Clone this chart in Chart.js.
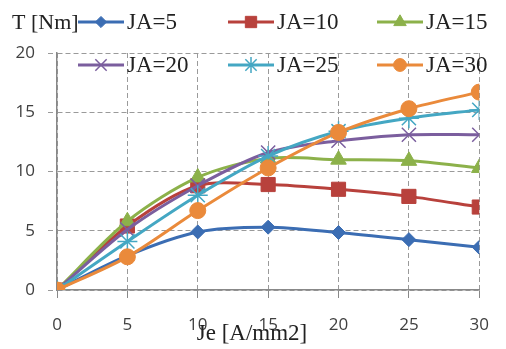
<!DOCTYPE html>
<html>
<head>
<meta charset="utf-8">
<script src="https://cdn.jsdelivr.net/npm/chart.js@4.4.0/dist/chart.umd.min.js"></script>
<style>
  html, body { margin: 0; padding: 0; background: #fff; }
  canvas { display: block; }
</style>
</head>
<body>
<canvas id="torqueChart" width="506" height="349"></canvas>
<script>
// Datos (Je en A/mm2, T en Nm)
const jeValues = [0, 5, 10, 15, 20, 25, 30];
const tJA5  = [0, 2.9, 4.9, 5.3, 4.85, 4.25, 3.6];
const tJA10 = [0, 5.4, 8.8, 8.9, 8.5, 7.9, 7.0];
const tJA15 = [0, 5.8, 9.5, 11.1, 11.0, 10.9, 10.3];
const tJA20 = [0, 5.1, 8.8, 11.6, 12.6, 13.1, 13.1];
const tJA25 = [0, 4.1, 8.0, 11.3, 13.4, 14.5, 15.2];
const tJA30 = [0, 2.8, 6.7, 10.3, 13.3, 15.3, 16.7];
const yTicks = [0, 5, 10, 15, 20];

// Colores estilo Excel
const colors = {
    blue: '#3b6db3',
    red: '#b8413c',
    green: '#8cb14a',
    purple: '#7b5e9e',
    cyan: '#44a7c3',
    orange: '#ea8a3b'
};

function serie(label, values, color, style, radius, strokeOnly, order) {
    return {
        label: label,
        data: jeValues.map((x, i) => ({ x: x, y: values[i] })),
        borderColor: color,
        backgroundColor: color,
        borderWidth: 3,
        tension: 0.3,
        pointStyle: style,
        pointRadius: radius,
        pointBackgroundColor: strokeOnly ? 'transparent' : color,
        pointBorderColor: color,
        pointBorderWidth: strokeOnly ? 1.5 : 1,
        order: order
    };
}

const datasets = [
    serie('JA=5', tJA5, colors.blue, 'rectRot', 7, false, 6),
    serie('JA=10', tJA10, colors.red, 'rect', 10, false, 5),
    serie('JA=15', tJA15, colors.green, 'triangle', 9, false, 4),
    serie('JA=20', tJA20, colors.purple, 'crossRot', 10, true, 3),
    serie('JA=25', tJA25, colors.cyan, 'star', 10, true, 2),
    serie('JA=30', tJA30, colors.orange, 'circle', 8, false, 1)
];

// Leyenda y títulos dibujados a mano (3 columnas, 2 filas)
const legendPlugin = {
    id: 'excelLegend',
    afterDraw(chart) {
        const ctx = chart.ctx;
        const cols = [78, 228, 377];
        const rows = [22, 65];
        ctx.save();
        ctx.font = '23px "Liberation Serif", serif';
        ctx.textBaseline = 'middle';
        chart.data.datasets.forEach((ds, i) => {
            const x = cols[i % 3];
            const y = rows[Math.floor(i / 3)];
            const len = 46;
            ctx.strokeStyle = ds.borderColor;
            ctx.lineWidth = 3;
            ctx.beginPath();
            ctx.moveTo(x, y);
            ctx.lineTo(x + len, y);
            ctx.stroke();
            ctx.fillStyle = ds.pointBackgroundColor;
            ctx.lineWidth = ds.pointBorderWidth;
            Chart.helpers.drawPoint(ctx, {
                pointStyle: ds.pointStyle,
                radius: ds.pointRadius * 0.8,
                rotation: 0,
                borderWidth: ds.pointBorderWidth
            }, x + len / 2, y);
            ctx.fillStyle = '#222';
            ctx.textAlign = 'left';
            ctx.fillText(ds.label, x + len + 3, y + 1);
        });
        // título del eje Y arriba a la izquierda
        ctx.font = '22px "Liberation Serif", serif';
        ctx.fillText('T [Nm]', 12, 23);
        // título del eje X, encima de las etiquetas
        ctx.textAlign = 'center';
        ctx.font = '23px "Liberation Serif", serif';
        ctx.fillText('Je [A/mm2]', 252, 334);
        ctx.restore();
    }
};

const tickFont = { family: '"Open Sans", sans-serif', size: 17 };

new Chart(document.getElementById('torqueChart'), {
    type: 'line',
    data: { datasets: datasets },
    plugins: [legendPlugin],
    options: {
        responsive: false,
        animation: false,
        layout: { padding: { top: 53, right: 13, left: 0, bottom: 0 } },
        plugins: {
            legend: { display: false },
            tooltip: { enabled: false }
        },
        scales: {
            x: {
                type: 'linear',
                min: 0,
                max: 30,
                afterFit: (scale) => { scale.height = 59; },
                ticks: { stepSize: 5, font: tickFont, color: '#404040', padding: 17, maxRotation: 0 },
                grid: { color: '#9a9a9a', lineWidth: 1, tickLength: 8, tickColor: '#888', tickBorderDash: [] },
                border: { display: true, color: '#888', width: 1.5, dash: [5, 3] }
            },
            y: {
                min: 0,
                max: 20,
                afterFit: (scale) => { scale.width = 57; },
                afterBuildTicks: (scale) => { scale.ticks = yTicks.map(v => ({ value: v })); },
                ticks: { font: tickFont, color: '#404040', padding: 13 },
                grid: { color: '#9a9a9a', lineWidth: 1, tickLength: 9, tickColor: '#9a9a9a', tickBorderDash: [5, 3] },
                border: { display: true, color: '#888', width: 1.5, dash: [5, 3] }
            }
        }
    }
});
</script>
</body>
</html>
